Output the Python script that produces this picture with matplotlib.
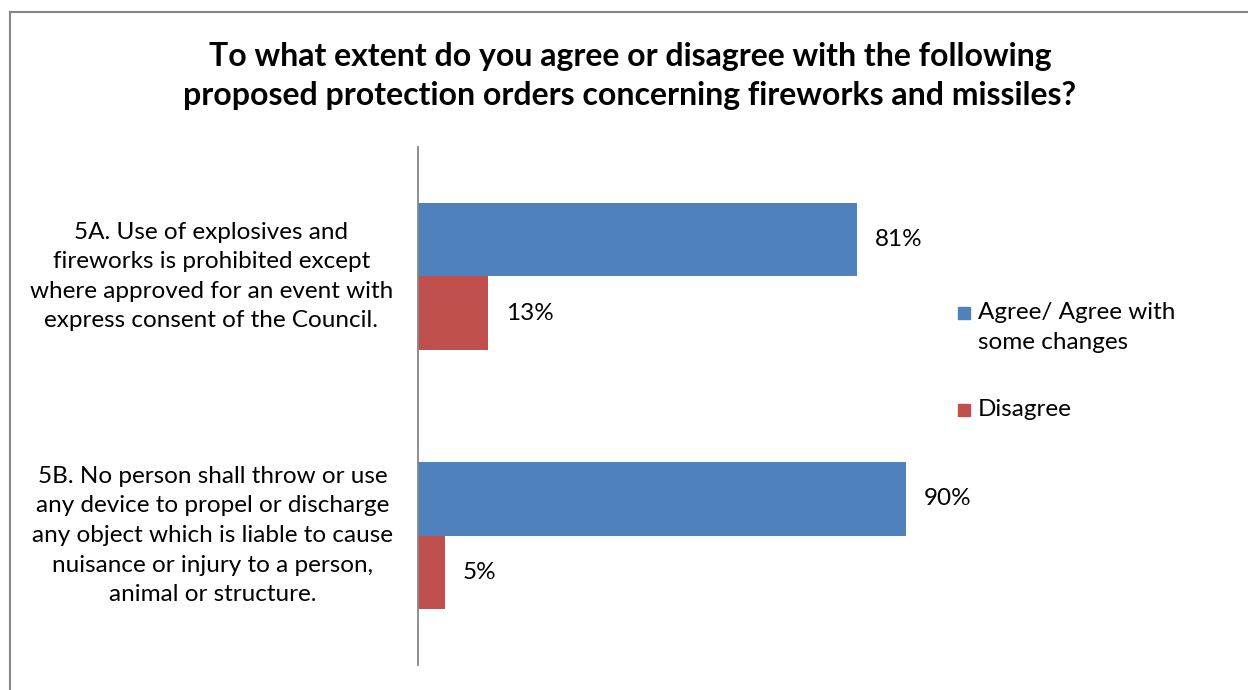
import matplotlib
matplotlib.use("Agg")
import matplotlib.pyplot as plt
from matplotlib.lines import Line2D
from matplotlib.patches import Rectangle

plt.rcParams['font.family'] = ['Lato', 'DejaVu Sans']

categories = [
    "5A. Use of explosives and\nfireworks is prohibited except\nwhere approved for an event with\nexpress consent of the Council.",
    "5B. No person shall throw or use\nany device to propel or discharge\nany object which is liable to cause\nnuisance or injury to a person,\nanimal or structure.",
]
agree = [81, 90]
disagree = [13, 5]
series_names = ["Agree/ Agree with\nsome changes", "Disagree"]
title = ("To what extent do you agree or disagree with the following\n"
         "proposed protection orders concerning fireworks and missiles?")

blue = "#4F81BD"
red = "#C0504D"
colors = [blue, red]

W, H = 1248, 690
fig = plt.figure(figsize=(W / 100, H / 100), dpi=100)
ax = fig.add_axes([418 / W, 1 - 665 / H, (960 - 418) / W, (665 - 147) / H])

h = 0.282
pos = list(range(len(categories)))
b1 = ax.barh([p - h / 2 for p in pos], agree, height=h, color=blue)
b2 = ax.barh([p + h / 2 for p in pos], disagree, height=h, color=red)

for bars, vals in ((b1, agree), (b2, disagree)):
    for bar, v in zip(bars, vals):
        ax.annotate(f"{v}%", (bar.get_width(), bar.get_y() + bar.get_height() / 2),
                    xytext=(18, 0), textcoords="offset pixels",
                    ha="left", va="center", fontsize=17.5, color="black")

ax.set_xlim(0, 100)
ax.set_ylim(len(categories) - 0.5, -0.5)
ax.set_xticks([])
ax.set_yticks([])
for s in ("top", "right", "bottom"):
    ax.spines[s].set_visible(False)
ax.spines["left"].set_color("#868686")
ax.spines["left"].set_linewidth(1.3)

# category labels, right-aligned left of the axis line
for p, lab in zip(pos, categories):
    ax.text(-25 / 542, p, lab, transform=ax.get_yaxis_transform(), ha="right",
            va="center", multialignment="center", fontsize=17.5, linespacing=1.5)

# legend, drawn by hand so the marker sits beside the first text line
leg_y = [313, 410]
for name, c, y in zip(series_names, colors, leg_y):
    fig.patches.append(Rectangle((958 / W, 1 - (y + 6) / H), 12 / W, 12 / H,
                                 transform=fig.transFigure, color=c))
    fig.text(978 / W, 1 - (y - 11) / H, name, ha="left", va="top", fontsize=17.5,
             linespacing=1.55)

fig.text(630 / W, 1 - 76 / H, title, ha="center", va="center", fontsize=23,
         fontweight="bold", linespacing=1.4)

# chart border (cropped at right and bottom)
fig.add_artist(Line2D([10 / W, 10 / W], [0, 1 - 12 / H], transform=fig.transFigure,
                      color="#868686", lw=1.5))
fig.add_artist(Line2D([10 / W, 1], [1 - 12 / H, 1 - 12 / H], transform=fig.transFigure,
                      color="#868686", lw=1.5))

fig.savefig("out.png", dpi=100)
